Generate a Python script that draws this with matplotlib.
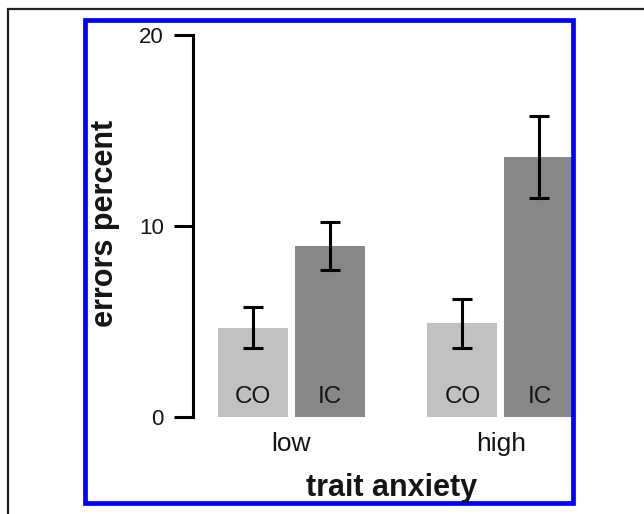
import matplotlib.pyplot as plt
from matplotlib.patches import Rectangle
import numpy as np

plt.rcParams['font.family'] = ['Liberation Sans', 'DejaVu Sans']

groups = ["low", "high"]
conditions = ["CO", "IC"]
means = {"CO": [4.68, 4.90], "IC": [8.95, 13.63]}
errs = {"CO": [1.06, 1.28], "IC": [1.25, 2.14]}
colors = {"CO": "#c1c1c1", "IC": "#878787"}

W, H = 644, 514
fig = plt.figure(figsize=(W / 100, H / 100), dpi=100)

def px(x0, y0, x1, y1):
    # pixel box (top-left origin) -> figure fraction [l, b, w, h]
    return [x0 / W, 1 - y1 / H, (x1 - x0) / W, (y1 - y0) / H]

# axes: y spine at x=193, 0 at y=417, 20 at y=35
unit = 209.5
xmin, xmax = -0.47, 1.36
ax = fig.add_axes(px(193, 35, 193 + (xmax - xmin) * unit, 417))
ax.set_xlim(xmin, xmax)
ax.set_ylim(0, 20)

x = np.arange(len(groups))
bw = 70 / unit
off = 38.5 / unit
lw = 2.2
txt = "#151515"
for i, c in enumerate(conditions):
    pos = x + (i - 0.5) * 2 * off
    ax.bar(pos, means[c], bw, color=colors[c], zorder=1)
    ax.errorbar(pos, means[c], yerr=errs[c], fmt="none", ecolor="black",
                elinewidth=lw, capsize=7, capthick=lw, zorder=3)
    for p in pos:
        ax.text(p, 1.05, c, ha="center", va="center", fontsize=17.5, color=txt)

for s in ["top", "right", "bottom"]:
    ax.spines[s].set_visible(False)
ax.spines["left"].set_linewidth(lw)
ax.set_yticks([0, 10, 20])
ax.tick_params(axis="y", length=14, width=lw, pad=7, labelsize=16, labelcolor=txt)
ax.set_xticks(x)
ax.set_xticklabels(groups, fontsize=19, color=txt)
ax.tick_params(axis="x", length=0, pad=11)

fig.text(105 / W, 1 - 223 / H, "errors percent", rotation=90, ha="center", va="center",
         fontsize=22, fontweight="bold", color=txt)
fig.text(392 / W, 1 - 488 / H, "trait anxiety", ha="center", va="center",
         fontsize=22, fontweight="bold", color=txt)

# blue frame and outer black frame
l, b, w, h = px(85, 20, 573, 503)
fig.patches.append(Rectangle((l, b), w, h, transform=fig.transFigure, fill=False,
                             edgecolor="#0000ff", linewidth=3.4))
l, b, w, h = px(8, 9, 700, 560)
fig.patches.append(Rectangle((l, b), w, h, transform=fig.transFigure, fill=False,
                             edgecolor="#222222", linewidth=1.6))

fig.savefig("out.png", dpi=100)
